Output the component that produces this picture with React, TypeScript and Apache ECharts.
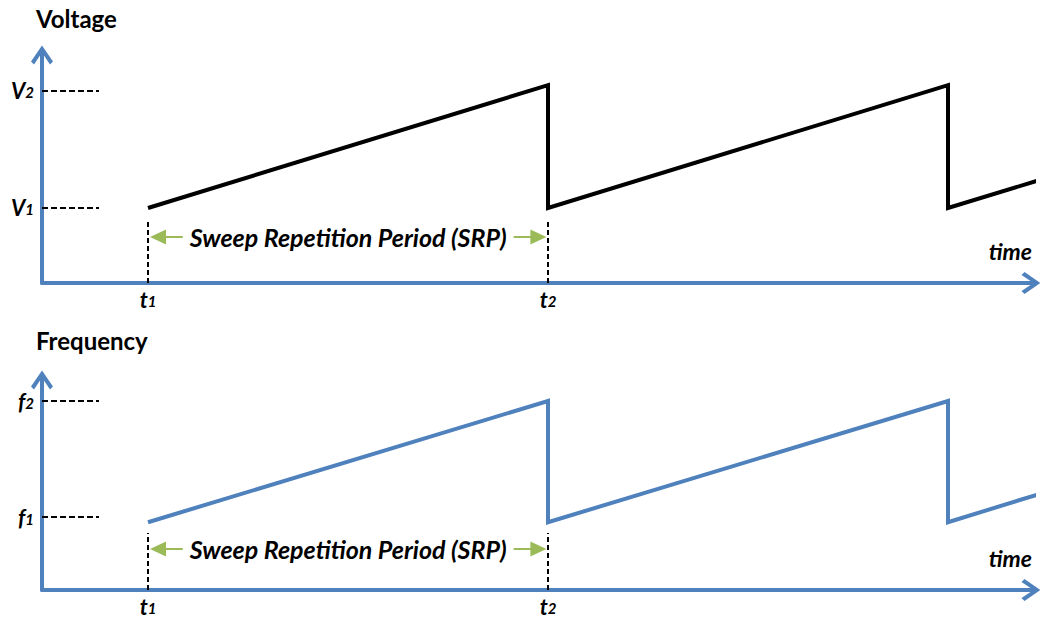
import React, { useEffect, useRef } from "react";
import * as echarts from "echarts";

// ---- data ----
const TIME = [1, 2, 2, 3, 3, 3.23];
const VOLTAGE = [1.0, 2.05, 1.0, 2.05, 1.0, 1.24];
const FREQUENCY = [0.955, 2.0, 0.955, 2.0, 0.955, 1.2];

const T_TICKS = [1, 2];
const T_SUBS = ["1", "2"];
const LEVEL_TICKS = [1, 2];
const LEVEL_SUBS = ["1", "2"];

const SRP_TEXT = "Sweep Repetition Period (SRP)";
const TOP_TITLE = "Voltage";
const BOTTOM_TITLE = "Frequency";
const X_NAME = "time";

// ---- styles ----
const FONT = "Lato";
const BLUE = "#4F81BD";
const GREEN = "#9BBB59";
const CHEVRON = "path://M11,0L22,16L19,19L11,7L3,19L0,16Z";

const XMIN = 0.735;
const XMAX = 3.215;
const VMIN = 0.359;
const VMAX = 2.333;
const FMIN = 0.3707;
const FMAX = 2.2069;

const richLabel = {
  m: { fontFamily: FONT, fontWeight: "bold", fontStyle: "italic", fontSize: 22, lineHeight: 18, color: "#000" },
  s: { fontFamily: FONT, fontWeight: "bold", fontStyle: "italic", fontSize: 15, lineHeight: 11, verticalAlign: "bottom", color: "#000" },
};

function xAxis(gridIndex: number, tickLen: number) {
  return {
    type: "value",
    gridIndex,
    min: XMIN,
    max: XMAX,
    name: X_NAME,
    nameLocation: "end",
    nameGap: -2,
    nameTextStyle: {
      fontFamily: FONT, fontWeight: "bold", fontStyle: "italic", fontSize: 23, color: "#000",
      align: "right", verticalAlign: "bottom", padding: [0, 0, 21, 0],
    },
    splitLine: { show: false },
    axisLine: {
      show: true,
      lineStyle: { color: BLUE, width: 4 },
      symbol: ["none", CHEVRON],
      symbolSize: [22, 19],
      symbolOffset: [0, -3],
    },
    axisTick: {
      show: true,
      inside: true,
      length: tickLen,
      customValues: T_TICKS,
      lineStyle: { color: "#000", width: 2, type: [5, 3] },
    },
    axisLabel: {
      show: true,
      customValues: T_TICKS,
      margin: 7,
      formatter: (v: number) => `{m|t}{s|${T_SUBS[T_TICKS.indexOf(v)] ?? ""}}`,
      rich: richLabel,
    },
  };
}

function yAxis(gridIndex: number, min: number, max: number, letter: string) {
  return {
    type: "value",
    gridIndex,
    min,
    max,
    splitLine: { show: false },
    axisLine: {
      show: true,
      lineStyle: { color: BLUE, width: 4 },
      symbol: ["none", CHEVRON],
      symbolSize: [22, 19],
      symbolOffset: [0, -3],
    },
    axisTick: {
      show: true,
      inside: true,
      length: 57,
      customValues: LEVEL_TICKS,
      lineStyle: { color: "#000", width: 2, type: [6, 3] },
    },
    axisLabel: {
      show: true,
      customValues: LEVEL_TICKS,
      margin: 8,
      formatter: (v: number) => `{m|${letter}}{s|${LEVEL_SUBS[LEVEL_TICKS.indexOf(v)] ?? ""}}`,
      rich: richLabel,
    },
  };
}

function srpMarkLine(level: number) {
  return {
    silent: true,
    symbol: ["triangle", "triangle"],
    symbolSize: [15, 16],
    lineStyle: { color: GREEN, width: 2, type: "solid" },
    label: {
      show: true,
      position: "insideMiddle",
      formatter: SRP_TEXT,
      fontFamily: FONT,
      fontWeight: "bold",
      fontStyle: "italic",
      fontSize: 25,
      color: "#000",
      backgroundColor: "#fff",
      padding: [2, 7],
    },
    emphasis: { disabled: true },
    data: [[{ coord: [T_TICKS[0] + 0.025, level] }, { coord: [T_TICKS[1] - 0.024, level] }]],
  };
}

export default function App() {
  const ref = useRef<HTMLDivElement>(null);
  useEffect(() => {
    if (!ref.current) return;
    const chart = echarts.init(ref.current, null, { renderer: "svg" });
    chart.setOption({
      animation: false,
      backgroundColor: "#fff",
      title: [
        { text: TOP_TITLE, left: 36, top: 6, padding: 0, textStyle: { fontFamily: FONT, fontWeight: "bold", fontSize: 24, color: "#000" } },
        { text: BOTTOM_TITLE, left: 36, top: 328, padding: 0, textStyle: { fontFamily: FONT, fontWeight: "bold", fontSize: 24, color: "#000" } },
      ],
      grid: [
        { left: 42, top: 52, width: 992, height: 231 },
        { left: 42, top: 377, width: 992, height: 213 },
      ],
      xAxis: [xAxis(0, 62), xAxis(1, 57)],
      yAxis: [yAxis(0, VMIN, VMAX, "V"), yAxis(1, FMIN, FMAX, "f")],
      series: [
        {
          type: "line",
          xAxisIndex: 0,
          yAxisIndex: 0,
          data: TIME.map((t, i) => [t, VOLTAGE[i]]),
          symbol: "none",
          clip: false,
          lineStyle: { color: "#000", width: 4, join: "miter" },
          markLine: srpMarkLine(0.752),
        },
        {
          type: "line",
          xAxisIndex: 1,
          yAxisIndex: 1,
          data: TIME.map((t, i) => [t, FREQUENCY[i]]),
          symbol: "none",
          clip: false,
          lineStyle: { color: BLUE, width: 4, join: "miter" },
          markLine: srpMarkLine(0.724),
        },
      ],
    });
    return () => chart.dispose();
  }, []);
  return <div ref={ref} style={{ position: "fixed", left: 0, top: 0, width: 1040, height: 618 }} />;
}
